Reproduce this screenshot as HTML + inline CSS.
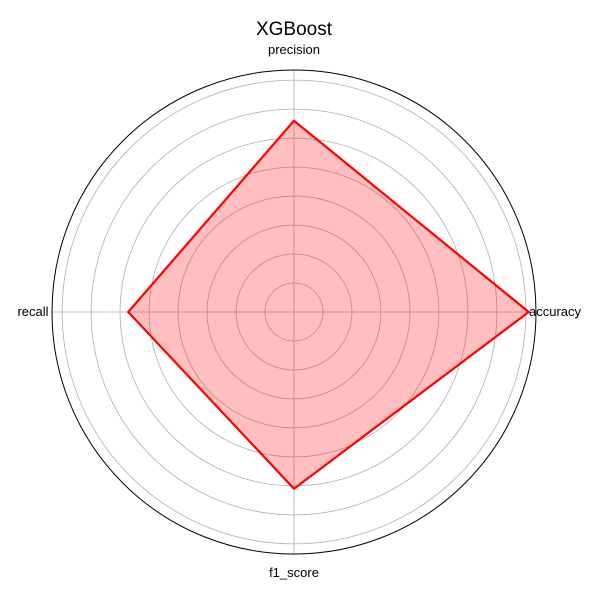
<!DOCTYPE html>
<html><head><meta charset="utf-8"><style>
body{margin:0;background:#fff;font-family:"Liberation Sans","DejaVu Sans",sans-serif}
</style></head><body>
<svg id="chart" width="600" height="600"></svg>
<script>
const categories=["accuracy","precision","recall","f1_score"];
const values=[0.81,0.66,0.572,0.61];
const ticks=[0.1,0.2,0.3,0.4,0.5,0.6,0.7,0.8];
const rmax=0.835;
const cx=294,cy=312,R=242;
const NS="http://www.w3.org/2000/svg";
const svg=document.getElementById('chart');
function rs(v){return v/rmax*R;}
function pt(i,v){const a=i*2*Math.PI/categories.length;return [cx+rs(v)*Math.cos(a),cy-rs(v)*Math.sin(a)];}
function mk(t,attrs,name){const e=document.createElementNS(NS,t);for(const k in attrs)e.setAttribute(k,attrs[k]);


svg.appendChild(e);return e;}
ticks.forEach((t,i)=>{mk('circle',{cx:cx,cy:cy,r:rs(t),fill:'none',stroke:'#b0b0b0','stroke-width':0.8},'grid-circle-'+(i+1));});
categories.forEach((c,i)=>{const p=pt(i,rmax);mk('line',{x1:cx,y1:cy,x2:p[0],y2:p[1],stroke:'#b0b0b0','stroke-width':0.8},'grid-spoke-'+c);});
mk('circle',{cx:cx,cy:cy,r:R,fill:'none',stroke:'#000','stroke-width':1},'outer-circle');
const pts=values.map((v,i)=>pt(i,v).join(',')).join(' ');
mk('polygon',{points:pts,fill:'rgba(255,0,0,0.25)',stroke:'none'},'area-fill');
mk('polygon',{points:pts,fill:'none',stroke:'#ff0000','stroke-width':2.2,'stroke-linejoin':'miter'},'series-line');
const lp=[[555,316,'middle'],[294,54,'middle'],[33,316,'middle'],[294,577,'middle']];
categories.forEach((c,i)=>{const e=mk('text',{x:lp[i][0],y:lp[i][1],'text-anchor':lp[i][2],'font-size':13,fill:'#000'},'axis-label-'+c);e.textContent=c;});
const t=mk('text',{x:294,y:35,'text-anchor':'middle','font-size':19,fill:'#000'},'chart-title');t.textContent="XGBoost";
</script>
</body></html>
